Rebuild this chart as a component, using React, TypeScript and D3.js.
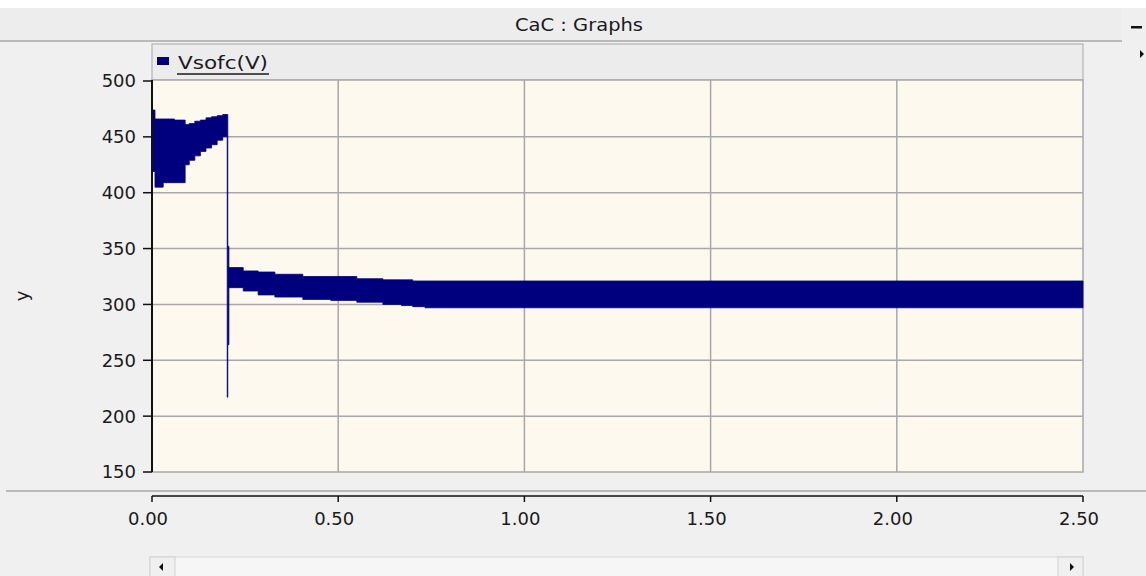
import * as d3 from 'd3';

const W = 1146;
const H = 576;

// envelope of the Vsofc(V) trace (time s, volts)
const envTime = [0, 0.008, 0.03, 0.06, 0.089, 0.1, 0.115, 0.13, 0.145, 0.16, 0.175, 0.19, 0.202, 0.2035, 0.2065, 0.245, 0.285, 0.33, 0.405, 0.48, 0.55, 0.62, 0.67, 0.7, 0.733, 2.5];
const envUpper = [474, 466, 466, 465, 461, 462, 464, 465, 467, 468, 469, 470, 470, 352, 333, 330, 329, 327, 325, 325, 323, 322, 322, 321, 321, 321];
const envLower = [419, 405, 409, 409, 425, 429, 433, 437, 440, 443, 447, 450, 217, 264, 315, 312, 308.5, 306.6, 304.5, 303.6, 302, 300, 299, 298, 297, 297];

const xTicks = [0, 0.5, 1, 1.5, 2, 2.5];
const yTicks = [150, 200, 250, 300, 350, 400, 450, 500];
const seriesName = 'Vsofc(V)';
const title = 'CaC : Graphs';
const yLabel = 'y';

const margin = { left: 152, right: 1083, top: 80, bottom: 472 };
const font = '"DejaVu Sans", Verdana, sans-serif';
const navy = '#00007f';
const ink = '#1a1a1a';

export default function App() {
  const x = d3.scaleLinear().domain([0, 2.5]).range([margin.left, margin.right]);
  const y = d3.scaleLinear().domain([150, 500]).range([margin.bottom, margin.top + 1]);

  const pts = envTime.map((t, i) => ({ t, hi: envUpper[i], lo: envLower[i] }));
  const area = d3.area<{ t: number; hi: number; lo: number }>()
    .x(d => x(d.t))
    .y0(d => y(d.lo))
    .y1(d => y(d.hi))
    .curve(d3.curveStepAfter);

  const fmt = d3.format('.2f');
  const axisY = 496;

  return (
    <svg width={W} height={H} style={{ position: 'absolute', left: 0, top: 0, background: '#f0f0f0' }}>
      {/* window title bar */}
      <rect x={0} y={0} width={W} height={8} fill='#ffffff' />
      <rect x={0} y={8} width={1122} height={33} fill='#ededed' />
      <rect x={1123} y={8} width={23} height={33} fill='#efefef' />
      <line x1={0} x2={1122} y1={41} y2={41} stroke='#a8a8a8' strokeWidth={1.5} />
      <text x={515} y={31} fontFamily={font} fontSize={18} fill={ink} textLength={128} lengthAdjust='spacingAndGlyphs'>{title}</text>
      <rect x={1131} y={26} width={11} height={2.5} fill='#111' />
      <path d='M1140,50 L1144,54 L1140,58 Z' fill='#111' />

      {/* legend strip */}
      <rect x={margin.left} y={44} width={margin.right - margin.left} height={36} fill='#ececec' stroke='#a8a8a8' strokeWidth={1} />
      <rect x={157} y={57} width={12} height={8} fill={navy} />
      <text x={178} y={69} fontFamily={font} fontSize={18} fill={ink} textLength={90} lengthAdjust='spacingAndGlyphs'>{seriesName}</text>
      <line x1={177} x2={269} y1={74} y2={74} stroke={ink} strokeWidth={1.5} />

      {/* plot area */}
      <rect x={margin.left} y={margin.top} width={margin.right - margin.left} height={margin.bottom - margin.top} fill='#fdf9ef' stroke='#a8a8a8' strokeWidth={1.5} />
      {yTicks.slice(1, -1).map(v => (
        <line key={'gy' + v} x1={margin.left} x2={margin.right} y1={y(v)} y2={y(v)} stroke='#a8a8a8' strokeWidth={1.5} />
      ))}
      {xTicks.slice(1, -1).map(v => (
        <line key={'gx' + v} x1={x(v)} x2={x(v)} y1={margin.top} y2={margin.bottom} stroke='#a8a8a8' strokeWidth={1.5} />
      ))}

      <path d={area(pts) ?? ''} fill={navy} stroke={navy} strokeWidth={0.8} />

      {/* y axis */}
      <line x1={margin.left} x2={margin.left} y1={margin.top} y2={margin.bottom} stroke='#111' strokeWidth={2} />
      {yTicks.map(v => (
        <g key={'ty' + v} transform={`translate(0,${y(v)})`}>
          <line x1={143} x2={margin.left} stroke='#111' strokeWidth={1.5} />
          <text x={136} dy='0.36em' textAnchor='end' fontFamily={font} fontSize={18} fill={ink}>{v}</text>
        </g>
      ))}
      <text transform={`translate(28,296) rotate(-90)`} textAnchor='middle' fontFamily={font} fontSize={18} fill={ink}>{yLabel}</text>

      {/* x axis */}
      <line x1={6} x2={W} y1={491} y2={491} stroke='#a8a8a8' strokeWidth={1.5} />
      <line x1={margin.left} x2={margin.right} y1={axisY} y2={axisY} stroke='#111' strokeWidth={1.5} />
      {xTicks.map(v => (
        <g key={'tx' + v} transform={`translate(${x(v)},0)`}>
          <line y1={axisY} y2={502} stroke='#111' strokeWidth={1.5} />
          <text x={-4} y={525} textAnchor='middle' fontFamily={font} fontSize={18} fill={ink}>{fmt(v)}</text>
        </g>
      ))}

      {/* scrollbar */}
      <rect x={150} y={557} width={933} height={22} fill='#f6f6f6' stroke='#d8d8d8' strokeWidth={1} />
      <rect x={150} y={557} width={25} height={22} fill='#f0f0f0' stroke='#d0d0d0' strokeWidth={1} />
      <rect x={1058} y={557} width={25} height={22} fill='#f0f0f0' stroke='#d0d0d0' strokeWidth={1} />
      <path d='M159,567 L163,563 L163,571 Z' fill='#111' />
      <path d='M1074,567 L1070,563 L1070,571 Z' fill='#111' />
    </svg>
  );
}
